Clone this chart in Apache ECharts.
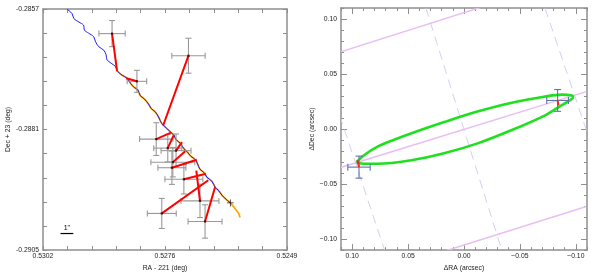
<!DOCTYPE html>
<html><head><meta charset="utf-8">
<script src="https://cdn.jsdelivr.net/npm/echarts@6/dist/echarts.min.js"></script>
<style>html,body{margin:0;padding:0;background:#fff}#c{width:598px;height:277px}</style>
</head><body><div id="c"></div>
<script>
// ================= LEFT PANEL (degrees) =================
const raTicks = [0.5302,0.52967,0.52914,0.52861,0.52808,0.52755,0.52702,0.52649,0.52596,0.52543,0.5249];
const raLabelValues = [0.5302,0.52755,0.5249];
const raLabels = ['0.5302','0.5276','0.5249'];
const decTicks = [-0.2857,-0.28618,-0.28666,-0.28714,-0.28762,-0.2881,-0.28858,-0.28906,-0.28954,-0.29002,-0.2905];
const decLabelValues = [-0.2857,-0.2881,-0.2905];
const decLabels = ['-0.2857','-0.2881','-0.2905'];

const blueRA = [0.52968,0.52957,0.52953,0.52942,0.52932,0.52930,0.52921,0.52910,0.52906,0.52899,0.52888,0.52883,0.52881,0.52872,0.52863,0.52858,0.52848,0.52837,0.52830,0.52822,0.52814,0.52809,0.52800,0.52791,0.52785,0.52776,0.52769,0.52762,0.52751,0.52744,0.52736,0.52731,0.52722,0.52715,0.52707,0.52699,0.52689,0.52684,0.52679,0.52670,0.52664,0.52653,0.52646,0.52639,0.52631,0.52621,0.52613];
const blueDec = [-0.28570,-0.28579,-0.28589,-0.28596,-0.28602,-0.28612,-0.28618,-0.28625,-0.28635,-0.28645,-0.28652,-0.28661,-0.28671,-0.28678,-0.28684,-0.28694,-0.28702,-0.28708,-0.28718,-0.28726,-0.28731,-0.28742,-0.28749,-0.28759,-0.28768,-0.28775,-0.28785,-0.28798,-0.28808,-0.28814,-0.28821,-0.28830,-0.28837,-0.28847,-0.28854,-0.28863,-0.28870,-0.28879,-0.28889,-0.28896,-0.28905,-0.28913,-0.28925,-0.28931,-0.28941,-0.28950,-0.28956];
const orangeRA = [0.52858,0.52848,0.52837,0.52830,0.52822,0.52814,0.52809,0.52800,0.52791,0.52785,0.52776,0.52769,0.52762,0.52751,0.52744,0.52736,0.52731,0.52722,0.52715,0.52707,0.52699,0.52689,0.52684,0.52679,0.52670,0.52664,0.52653,0.52646,0.52639,0.52631,0.52621,0.52613,0.52603,0.52595,0.52592];
const orangeDec = [-0.28694,-0.28702,-0.28708,-0.28718,-0.28726,-0.28731,-0.28742,-0.28749,-0.28759,-0.28768,-0.28775,-0.28785,-0.28798,-0.28808,-0.28814,-0.28821,-0.28830,-0.28837,-0.28847,-0.28854,-0.28863,-0.28870,-0.28879,-0.28889,-0.28896,-0.28905,-0.28913,-0.28925,-0.28931,-0.28941,-0.28950,-0.28956,-0.28967,-0.28977,-0.28985];

const obsRA  = [0.52870,0.52816,0.52704,0.52774,0.52749,0.52731,0.52738,0.52740,0.52714,0.52679,0.52762,0.52668];
const obsDec = [-0.28619,-0.28714,-0.28663,-0.28829,-0.28847,-0.28852,-0.28875,-0.28886,-0.28909,-0.28952,-0.28977,-0.28993];
const obsErrRA  = [0.000286,0.000212,0.000362,0.000362,0.000304,0.000325,0.000477,0.000304,0.000412,0.000412,0.000314,0.000369];
const obsErrDec = [0.000260,0.000219,0.000348,0.000326,0.000274,0.000332,0.000293,0.000332,0.000293,0.000332,0.000299,0.000332];
const modelRA  = [0.52859,0.52839,0.52759,0.52742,0.52736,0.52718,0.52711,0.52686,0.52666,0.52687,0.52661,0.52646];
const modelDec = [-0.28694,-0.28708,-0.28802,-0.28816,-0.28821,-0.28835,-0.28853,-0.28870,-0.28898,-0.28892,-0.28911,-0.28924];
const refPoint = [0.52613,-0.28956];
const scaleBar = {ra: 0.52982, dec: -0.29017, len: 0.000278, label: '1"'};

// ================= RIGHT PANEL (arcsec) =================
const dMajor = [-0.10,-0.05,0,0.05,0.10];
const dLabels = ['\u22120.10','\u22120.05','0.00','0.05','0.10'];
const dMinor = [-0.11,-0.10,-0.09,-0.08,-0.07,-0.06,-0.05,-0.04,-0.03,-0.02,-0.01,0,0.01,0.02,0.03,0.04,0.05,0.06,0.07,0.08,0.09,0.10,0.11];

const ellX = [0.0962,0.0888,0.0769,0.0620,0.0469,0.0170,-0.0128,-0.0428,-0.0726,-0.0876,-0.0966,-0.0975,-0.0935,-0.0846,-0.0726,-0.0428,-0.0128,0.0170,0.0469,0.0769,0.0917,0.0962];
const ellY = [-0.0301,-0.0233,-0.0158,-0.0095,-0.0038,0.0066,0.0161,0.0239,0.0295,0.0313,0.0304,0.0290,0.0254,0.0200,0.0125,-0.0009,-0.0128,-0.0218,-0.0283,-0.0316,-0.0313,-0.0301];

const solidTrails = [[0.1112,0.0698,-0.0143,0.1104],[0.1112,-0.0352,-0.1094,0.0340],[0.0155,-0.1104,-0.1094,-0.0704]];
const dashedTrails = [[0.0341,0.1100,-0.0338,-0.1100],[-0.0726,0.1095,-0.1094,-0.0010],[0.1112,0.0125,0.0709,-0.1104]];

const obs2X = [0.0939,-0.0837];
const obs2Y = [-0.0346,0.0260];
const err2X = [0.0100,0.0097];
const err2Y = [0.0100,0.0099];
const model2X = [0.0953,-0.0845];
const model2Y = [-0.0283,0.0215];

// ================= helpers =================
const FONT = '"Liberation Sans", Arial, Helvetica, sans-serif';
const FRAME = '#8e8e8e';
const TXT = '#222';
function labelFmt(vals, labs){ return function(v){ for(let i=0;i<vals.length;i++){ if(Math.abs(vals[i]-v)<1e-9) return labs[i]; } return ''; }; }
function zip2(a,b){ return a.map((v,i)=>[v,b[i]]); }

function errRender(cap, color, width){
  return function(params, api){
    const x=api.value(0), y=api.value(1), ex=api.value(2), ey=api.value(3);
    const l=api.coord([x-ex,y]), r=api.coord([x+ex,y]), t=api.coord([x,y+ey]), b=api.coord([x,y-ey]);
    const h=cap/2, st={stroke:color, lineWidth:width};
    const L=(x1,y1,x2,y2)=>({type:'line',shape:{x1,y1,x2,y2},style:st});
    return {type:'group', children:[
      L(l[0],l[1],r[0],r[1]), L(t[0],t[1],b[0],b[1]),
      L(l[0],l[1]-h,l[0],l[1]+h), L(r[0],r[1]-h,r[0],r[1]+h),
      L(t[0]-h,t[1],t[0]+h,t[1]), L(b[0]-h,b[1],b[0]+h,b[1])
    ]};
  };
}
function segRender(color, width, dash){
  return function(params, api){
    const p1=api.coord([api.value(0),api.value(1)]), p2=api.coord([api.value(2),api.value(3)]);
    return {type:'line', shape:{x1:p1[0],y1:p1[1],x2:p2[0],y2:p2[1]}, style:{stroke:color,lineWidth:width,lineDash:dash||null}};
  };
}
const tick = (vals,len)=>({show:true, inside:true, length:len, customValues:vals, lineStyle:{color:FRAME,width:1}});
const lineOn = {show:true, onZero:false, lineStyle:{color:FRAME,width:1.5}};
const lineOff = {show:false, onZero:false};

function xAx(grid, pos, min, max, opts){
  return Object.assign({
    type:'value', gridIndex:grid, position:pos, min:min, max:max, inverse:true,
    axisLine:lineOn, axisLabel:{show:false}, splitLine:{show:false}
  }, opts);
}
function yAx(grid, pos, min, max, opts){
  return Object.assign({
    type:'value', gridIndex:grid, position:pos, min:min, max:max,
    axisLine:lineOn, axisLabel:{show:false}, splitLine:{show:false}
  }, opts);
}
const lab = (vals, labs, margin)=>({show:true, customValues:vals, formatter:labelFmt(vals,labs), fontSize:6.8, fontFamily:FONT, color:TXT, margin:margin});
const nm = (text, gap)=>({name:text, nameLocation:'middle', nameGap:gap, nameTextStyle:{fontSize:6.8, fontFamily:FONT, color:TXT}});

const chart = echarts.init(document.getElementById('c'), null, {renderer:'canvas'});
chart.setOption({
  animation:false,
  backgroundColor:'#fff',
  grid:[
    {left:43, top:9, width:244, height:245},
    {left:341, top:8, width:246, height:245}
  ],
  xAxis:[
    xAx(0,'bottom',0.5249,0.5302, Object.assign({axisTick:tick(raTicks,4), axisLabel:lab(raLabelValues,raLabels,3)}, nm('RA - 221 (deg)',10))),
    xAx(0,'top',0.5249,0.5302, {axisTick:tick(raTicks,4)}),
    xAx(1,'bottom',-0.11,0.11, Object.assign({axisTick:tick(dMajor,6), axisLabel:lab(dMajor,dLabels,3)}, nm('\u0394RA (arcsec)',10))),
    xAx(1,'bottom',-0.11,0.11, {axisLine:lineOff, axisTick:tick(dMinor,3)}),
    xAx(1,'top',-0.11,0.11, {axisTick:tick(dMajor,6)}),
    xAx(1,'top',-0.11,0.11, {axisLine:lineOff, axisTick:tick(dMinor,3)})
  ],
  yAxis:[
    yAx(0,'left',-0.2905,-0.2857, Object.assign({axisTick:tick(decTicks,4), axisLabel:lab(decLabelValues,decLabels,4)}, nm('Dec + 23 (deg)',29))),
    yAx(0,'right',-0.2905,-0.2857, {axisTick:tick(decTicks,4)}),
    yAx(1,'left',-0.11,0.11, Object.assign({axisTick:tick(dMajor,6), axisLabel:lab(dMajor,dLabels,4)}, nm('\u0394Dec (arcsec)',23))),
    yAx(1,'left',-0.11,0.11, {axisLine:lineOff, axisTick:tick(dMinor,3)}),
    yAx(1,'right',-0.11,0.11, {axisTick:tick(dMajor,6)}),
    yAx(1,'right',-0.11,0.11, {axisLine:lineOff, axisTick:tick(dMinor,3)})
  ],
  series:[
    // ---- left panel ----
    {type:'line', xAxisIndex:0, yAxisIndex:0, data:zip2(orangeRA,orangeDec), showSymbol:false, smooth:0.3, lineStyle:{color:'#ffa500',width:1.7}, z:2},
    {type:'line', xAxisIndex:0, yAxisIndex:0, data:zip2(blueRA,blueDec), showSymbol:false, smooth:0.3, lineStyle:{color:'#1a1aff',width:1}, z:3},
    {type:'custom', xAxisIndex:0, yAxisIndex:0, clip:true, renderItem:errRender(6,'#999',1.1),
      data:obsRA.map((v,i)=>[v,obsDec[i],obsErrRA[i],obsErrDec[i]]), z:4},
    {type:'custom', xAxisIndex:0, yAxisIndex:0, clip:true, renderItem:segRender('#ff0000',2),
      data:obsRA.map((v,i)=>[v,obsDec[i],modelRA[i],modelDec[i]]), z:5},
    {type:'scatter', xAxisIndex:0, yAxisIndex:0, data:zip2(obsRA,obsDec), symbol:'rect', symbolSize:2.2, itemStyle:{color:'#200'}, z:6},
    {type:'scatter', xAxisIndex:0, yAxisIndex:0, data:[refPoint], symbol:'path://M-1,-0.12h2v0.24h-2zM-0.12,-1h0.24v2h-0.24z', symbolSize:7, itemStyle:{color:'#000'}, z:7},
    {type:'custom', xAxisIndex:0, yAxisIndex:0, renderItem:function(params, api){
        const a=api.coord([api.value(0),api.value(1)]), b=api.coord([api.value(0)-api.value(2),api.value(1)]);
        return {type:'group', children:[
          {type:'line', shape:{x1:a[0],y1:a[1],x2:b[0],y2:b[1]}, style:{stroke:'#000',lineWidth:1.2}},
          {type:'text', x:(a[0]+b[0])/2, y:a[1]-1.5, style:{text:scaleBar.label, fill:'#000', font:'7px '+FONT, align:'center', verticalAlign:'bottom'}}
        ]};
      }, data:[[scaleBar.ra, scaleBar.dec, scaleBar.len]], z:8},
    // ---- right panel ----
    {type:'custom', xAxisIndex:2, yAxisIndex:2, clip:true, renderItem:segRender('#e8bff3',1.5), data:solidTrails, z:2},
    {type:'custom', xAxisIndex:2, yAxisIndex:2, clip:true, renderItem:segRender('#d6cef2',1,[9,6]), data:dashedTrails, z:2},
    {type:'line', xAxisIndex:2, yAxisIndex:2, data:zip2(ellX,ellY), showSymbol:false, smooth:0.35, lineStyle:{color:'#1ee01e',width:2.6}, z:3},
    {type:'custom', xAxisIndex:2, yAxisIndex:2, clip:true, renderItem:errRender(7,'#5a78a8',1.1),
      data:obs2X.map((v,i)=>[v,obs2Y[i],err2X[i],err2Y[i]]), z:4},
    {type:'custom', xAxisIndex:2, yAxisIndex:2, clip:true, renderItem:segRender('#ff2020',2),
      data:obs2X.map((v,i)=>[v,obs2Y[i],model2X[i],model2Y[i]]), z:5}
  ]
});
</script></body></html>
